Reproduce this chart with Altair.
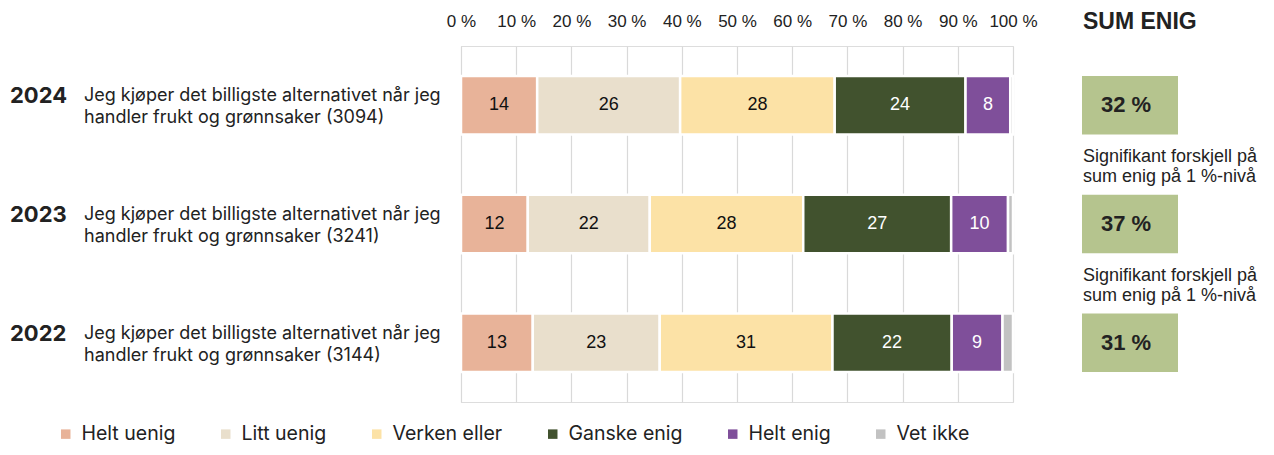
import altair as alt
import pandas as pd

years = ["2024", "2023", "2022"]
statements = [
    "Jeg kjøper det billigste alternativet når jeg\nhandler frukt og grønnsaker (3094)",
    "Jeg kjøper det billigste alternativet når jeg\nhandler frukt og grønnsaker (3241)",
    "Jeg kjøper det billigste alternativet når jeg\nhandler frukt og grønnsaker (3144)",
]
categories = ["Helt uenig", "Litt uenig", "Verken eller", "Ganske enig", "Helt enig", "Vet ikke"]
colors = ["#E8B399", "#E9DFCC", "#FCE2A6", "#41522E", "#7F4F9A", "#C2C2C2"]
v2024 = [13.8, 25.9, 28.0, 23.7, 8.1, 0.5]
v2023 = [12.1, 22.1, 27.8, 26.8, 10.3, 0.9]
v2022 = [13.0, 23.0, 31.3, 21.6, 9.2, 1.9]
sum_enig = [32, 37, 31]
note_years = ["2023", "2022"]
note_text = "Signifikant forskjell på\nsum enig på 1 %-nivå"
tick_values = [0, 10, 20, 30, 40, 50, 60, 70, 80, 90, 100]

rows = []
for y, vals in zip(years, [v2024, v2023, v2022]):
    for i, (c, v) in enumerate(zip(categories, vals)):
        rows.append({"Year": y, "Category": c, "Value": v, "order": i})
df = pd.DataFrame(rows)
lab_df = pd.DataFrame({"Year": years, "Statement": statements})
sum_df = pd.DataFrame({"Year": years, "Sum": sum_enig})
note_df = pd.DataFrame({"Year": note_years, "Note": [note_text] * len(note_years)})
head_df = pd.DataFrame({"t": ["SUM ENIG"]})

yenc = alt.Y("Year:N", sort=years,
             scale=alt.Scale(domain=years, paddingInner=0.507, paddingOuter=0.2535),
             axis=alt.Axis(title=None, labels=False, ticks=False, grid=False,
                           domainColor="#d9d9d9", domainWidth=1))

base = alt.Chart(df).transform_stack(
    stack="Value", groupby=["Year"], as_=["x0", "x1"], sort=[alt.SortField("order")]
)

bars = base.mark_bar(stroke="white", strokeWidth=2.5).encode(
    x=alt.X("x0:Q", scale=alt.Scale(domain=[0, 100], nice=False),
            axis=alt.Axis(orient="top", values=tick_values, labelExpr="datum.value + ' %'",
                          grid=True, gridColor="#d9d9d9", gridWidth=1.2, domain=False,
                          ticks=False, tickSize=0, labelPadding=16, labelFontSize=17,
                          labelOverlap=False, labelFlush=False,
                          labelFont="Liberation Sans", labelColor="#222", title=None)),
    x2="x1:Q",
    y=yenc,
    color=alt.Color("Category:N", scale=alt.Scale(domain=categories, range=colors),
                    legend=alt.Legend(title=None, orient="none", direction="horizontal",
                                      legendX=-405, legendY=378, symbolType="square",
                                      symbolSize=90, symbolStrokeWidth=0, labelFontSize=19.5,
                                      labelFont="Inter", labelColor="#222", labelOffset=6,
                                      columnPadding=40, padding=0)),
    order=alt.Order("order:Q"),
)

labels = base.transform_filter(alt.datum.Category != "Vet ikke").transform_calculate(
    mid="(datum.x0 + datum.x1) / 2", lbl="format(datum.Value, '.0f')"
).mark_text(fontSize=18, font="Liberation Sans", baseline="middle").encode(
    x=alt.X("mid:Q"),
    y=alt.Y("Year:N", sort=years),
    text="lbl:N",
    color=alt.condition(
        alt.FieldOneOfPredicate(field="Category", oneOf=["Ganske enig", "Helt enig"]),
        alt.value("white"), alt.value("#111")),
)

year_txt = alt.Chart(lab_df).mark_text(
    align="left", baseline="middle", fontSize=22, fontWeight="bold", font="Inter",
    color="#222", dy=-9
).encode(x=alt.value(-451), y=alt.Y("Year:N", sort=years), text="Year:N")

stmt_txt = alt.Chart(lab_df).mark_text(
    align="left", baseline="middle", fontSize=18, font="Inter", color="#222",
    lineBreak="\n", lineHeight=22, dy=-9
).encode(x=alt.value(-377), y=alt.Y("Year:N", sort=years), text="Statement:N")

boxes = alt.Chart(sum_df).mark_bar(color="#B5C48E").encode(
    x=alt.value(621), x2=alt.value(717), y=alt.Y("Year:N", sort=years)
)
box_txt = alt.Chart(sum_df).transform_calculate(
    s="datum.Sum + ' %'"
).mark_text(fontSize=22, fontWeight="bold", font="Liberation Sans", color="#222",
            baseline="middle").encode(
    x=alt.value(665), y=alt.Y("Year:N", sort=years), text="s:N"
)

head = alt.Chart(head_df).mark_text(
    align="left", baseline="middle", fontSize=23, fontWeight="bold",
    font="Liberation Sans", color="#222"
).encode(x=alt.value(622), y=alt.value(-24), text="t:N")

notes = alt.Chart(note_df).mark_text(
    align="left", baseline="middle", fontSize=18, font="Liberation Sans", color="#222",
    lineBreak="\n", lineHeight=20, dy=-67
).encode(x=alt.value(622), y=alt.Y("Year:N", sort=years), text="Note:N")

chart = alt.layer(bars, labels, year_txt, stmt_txt, boxes, box_txt, head, notes).properties(
    width=552, height=356,
    autosize=alt.AutoSizeParams(type="none"),
    padding={"left": 453, "top": 38, "right": 253, "bottom": 45},
).configure_view(stroke=None).configure(background="white")

chart.save("out.html", embed_options={"renderer": "svg", "actions": False})
